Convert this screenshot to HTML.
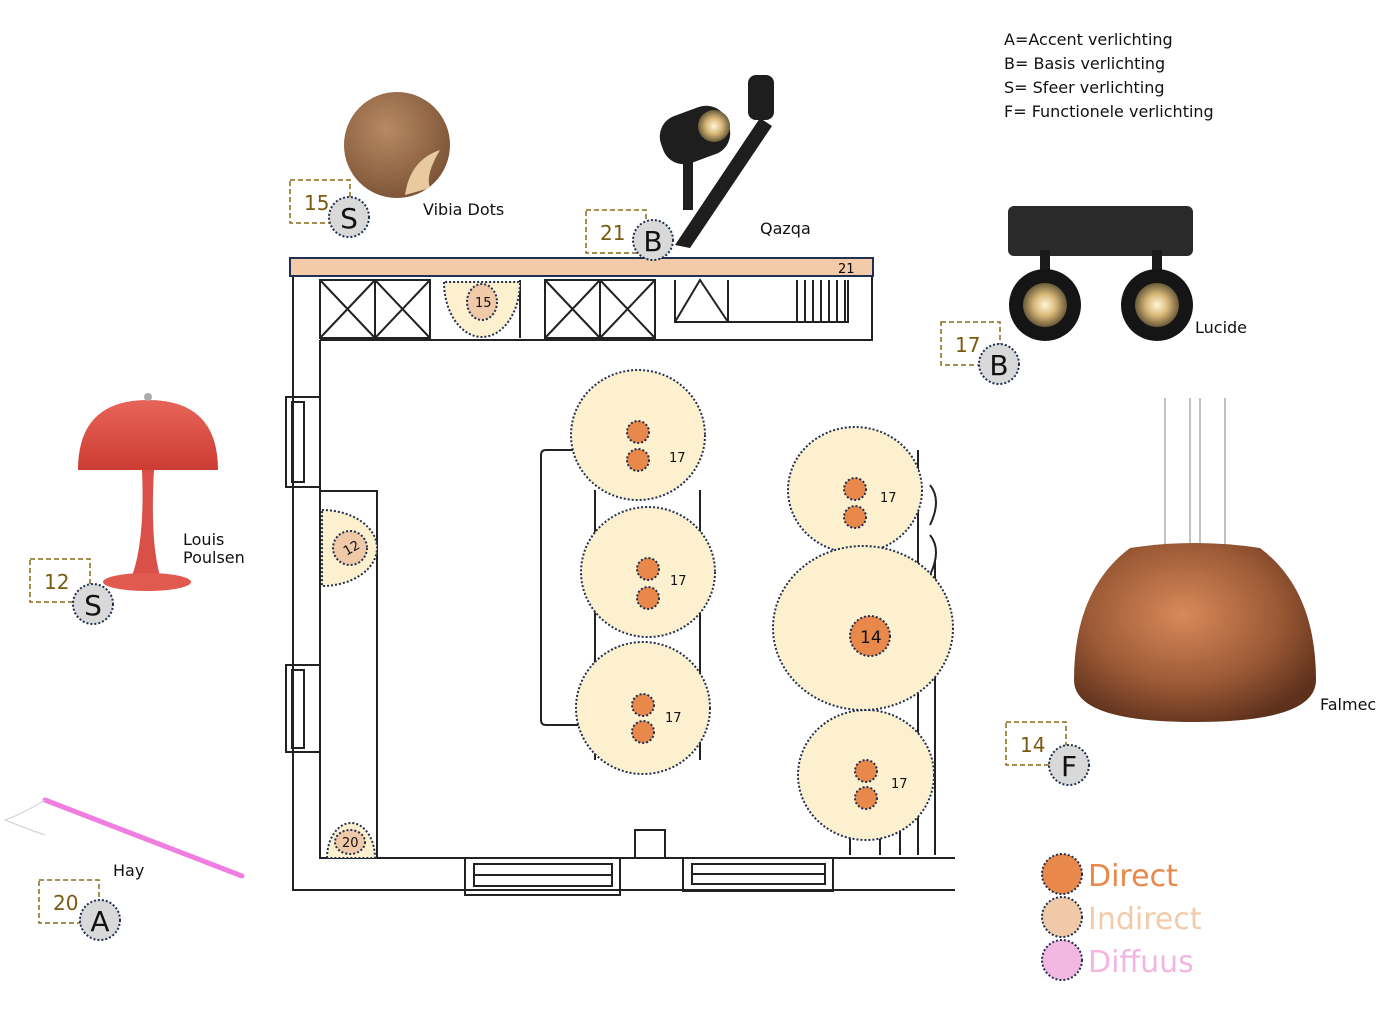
<!DOCTYPE html>
<html><head><meta charset="utf-8"><style>
html,body{margin:0;padding:0;background:#fff}
svg{display:block}
text{font-family:"DejaVu Sans","Liberation Sans",sans-serif}
</style></head><body>
<svg width="1388" height="1016" viewBox="0 0 1388 1016" xmlns="http://www.w3.org/2000/svg">
<defs>
<radialGradient id="wood" cx="40%" cy="35%" r="70%"><stop offset="0" stop-color="#b88a63"/><stop offset="1" stop-color="#7a5236"/></radialGradient>
<radialGradient id="cop" cx="45%" cy="40%" r="65%"><stop offset="0" stop-color="#d98a5a"/><stop offset="0.6" stop-color="#9c5a36"/><stop offset="1" stop-color="#5e311c"/></radialGradient>
<radialGradient id="bulb" cx="50%" cy="50%" r="50%"><stop offset="0" stop-color="#fff6d8"/><stop offset="0.5" stop-color="#d8b878"/><stop offset="1" stop-color="#6a5a3a"/></radialGradient>
<linearGradient id="red" x1="0" y1="0" x2="0" y2="1"><stop offset="0" stop-color="#e8645a"/><stop offset="1" stop-color="#cc3c32"/></linearGradient>
</defs>

<g font-size="16" fill="#111">
<text x="1004" y="45">A=Accent verlichting</text>
<text x="1004" y="69">B= Basis verlichting</text>
<text x="1004" y="93">S= Sfeer verlichting</text>
<text x="1004" y="117">F= Functionele verlichting</text>
</g>

<g fill="none" stroke="#222" stroke-width="2">
<path d="M293 277 V890 H955"/>
<path d="M320 340 V858 H955"/>
<path d="M320 340 H872 V277"/>
<rect x="320" y="280" width="110" height="58"/>
<line x1="375" y1="280" x2="375" y2="338"/>
<path d="M320 280 L375 338 M375 280 L320 338 M375 280 L430 338 M430 280 L375 338"/>
<line x1="520" y1="280" x2="520" y2="338"/>
<rect x="545" y="280" width="110" height="58"/>
<line x1="600" y1="280" x2="600" y2="338"/>
<path d="M545 280 L600 338 M600 280 L545 338 M600 280 L655 338 M655 280 L600 338"/>
<path d="M675 280 V322 H848 V280"/>
<path d="M675 322 L700 280 L728 322 M728 280 V322"/>
<path d="M797 280 V322 M805 280 V322 M813 280 V322 M821 280 V322 M829 280 V322 M837 280 V322 M845 280 V322"/>
<rect x="286" y="397" width="34" height="90"/>
<rect x="292" y="402" width="12" height="80"/>
<rect x="286" y="665" width="34" height="87"/>
<rect x="292" y="670" width="12" height="78"/>
<path d="M320 491 H377 V858"/>
<path d="M600 450 H546 Q541 450 541 455 V720 Q541 725 546 725 H580"/>
<path d="M595 490 V760 M700 490 V760"/>
<path d="M918 450 V855 M935 560 V855 M850 830 V855 M880 830 V855 M900 830 V855"/>
<path d="M930 485 Q942 500 930 525 M930 535 Q942 550 930 575"/>
<rect x="635" y="830" width="30" height="28"/>
<rect x="465" y="858" width="155" height="37"/>
<path d="M474 864 H612 V886 H474 Z M474 875 H612"/>
<rect x="683" y="858" width="150" height="33"/>
<path d="M692 864 H825 V884 H692 Z M692 874 H825"/>
</g>

<rect x="290" y="258" width="583" height="18" fill="#f4cba8" stroke="#1f3050" stroke-width="2"/>
<text x="838" y="273" font-size="13">21</text>

<g fill="#fdf0cf" stroke="#1f3050" stroke-width="2" stroke-dasharray="2,2">
<path d="M444 282 A38 55 0 0 0 520 282 Z"/>
<path d="M322 510 A55 38 0 0 1 322 586 Z"/>
<path d="M327 858 A24 35 0 0 1 375 858 Z"/>
<ellipse cx="638" cy="435" rx="67" ry="65"/>
<ellipse cx="648" cy="572" rx="67" ry="65"/>
<ellipse cx="643" cy="708" rx="67" ry="66"/>
<ellipse cx="855" cy="490" rx="67" ry="63"/>
<ellipse cx="866" cy="775" rx="68" ry="65"/>
<ellipse cx="863" cy="628" rx="90" ry="82"/>
</g>
<g fill="#f0c9a8" stroke="#1f3050" stroke-width="2" stroke-dasharray="2,2">
<ellipse cx="482" cy="302" rx="15" ry="18"/>
<circle cx="350" cy="548" r="17"/>
<ellipse cx="350" cy="842" rx="15" ry="12"/>
</g>
<g fill="#e8884a" stroke="#1f3050" stroke-width="2" stroke-dasharray="2,2">
<circle cx="638" cy="432" r="11"/><circle cx="638" cy="460" r="11"/>
<circle cx="648" cy="569" r="11"/><circle cx="648" cy="598" r="11"/>
<circle cx="643" cy="705" r="11"/><circle cx="643" cy="732" r="11"/>
<circle cx="855" cy="489" r="11"/><circle cx="855" cy="517" r="11"/>
<circle cx="866" cy="771" r="11"/><circle cx="866" cy="798" r="11"/>
<circle cx="870" cy="636" r="20"/>
</g>
<g font-size="13" fill="#111" font-family="Liberation Sans, sans-serif">
<text x="475" y="307">15</text>
<text x="343" y="553" transform="rotate(-30 350 548)">12</text>
<text x="342" y="847">20</text>
<text x="669" y="462">17</text>
<text x="670" y="585">17</text>
<text x="665" y="722">17</text>
<text x="880" y="502">17</text>
<text x="891" y="788">17</text>
<text x="860" y="643" font-size="17">14</text>
</g>

<g fill="none" stroke="#8a6a1a" stroke-width="1.5" stroke-dasharray="5,3">
<rect x="290" y="180" width="60" height="43"/>
<rect x="586" y="210" width="60" height="43"/>
<rect x="941" y="322" width="59" height="43"/>
<rect x="30" y="559" width="60" height="43"/>
<rect x="1006" y="722" width="60" height="43"/>
<rect x="39" y="880" width="60" height="43"/>
</g>
<g font-size="20" fill="#7a5a10">
<text x="304" y="210">15</text>
<text x="600" y="240">21</text>
<text x="955" y="352">17</text>
<text x="44" y="589">12</text>
<text x="1020" y="752">14</text>
<text x="53" y="910">20</text>
</g>
<g fill="#d9d9d9" stroke="#1f3050" stroke-width="2" stroke-dasharray="2,2">
<circle cx="349" cy="217" r="20"/>
<circle cx="653" cy="240" r="20"/>
<circle cx="999" cy="364" r="20"/>
<circle cx="93" cy="604" r="20"/>
<circle cx="1069" cy="765" r="20"/>
<circle cx="100" cy="920" r="20"/>
</g>
<g font-size="28" fill="#111" text-anchor="middle">
<text x="349" y="228">S</text>
<text x="653" y="251">B</text>
<text x="999" y="375">B</text>
<text x="93" y="615">S</text>
<text x="1069" y="776">F</text>
<text x="100" y="931">A</text>
</g>

<g font-size="16" fill="#111">
<text x="423" y="215">Vibia Dots</text>
<text x="760" y="234">Qazqa</text>
<text x="1195" y="333">Lucide</text>
<text x="183" y="545">Louis</text>
<text x="183" y="563">Poulsen</text>
<text x="113" y="876">Hay</text>
<text x="1320" y="710">Falmec</text>
</g>

<circle cx="397" cy="145" r="53" fill="url(#wood)"/>
<path d="M405 195 Q410 160 440 150 Q425 175 430 188 Z" fill="#e8c9a0"/>

<g fill="#1e1e1e">
<path d="M675 245 L760 118 L772 126 L690 248 Z"/>
<rect x="748" y="75" width="26" height="45" rx="8"/>
<rect x="660" y="110" width="70" height="50" rx="22" transform="rotate(-20 695 135)"/>
<rect x="683" y="160" width="10" height="50"/>
</g>
<circle cx="714" cy="126" r="16" fill="url(#bulb)"/>

<rect x="1008" y="206" width="185" height="50" rx="6" fill="#2a2a2a"/>
<rect x="1040" y="250" width="10" height="30" fill="#1a1a1a"/>
<rect x="1152" y="250" width="10" height="30" fill="#1a1a1a"/>
<circle cx="1045" cy="305" r="36" fill="#151515"/>
<circle cx="1045" cy="305" r="22" fill="url(#bulb)"/>
<circle cx="1157" cy="305" r="36" fill="#151515"/>
<circle cx="1157" cy="305" r="22" fill="url(#bulb)"/>

<path d="M78 470 Q78 400 148 400 Q218 400 218 470 Z" fill="url(#red)"/>
<circle cx="148" cy="397" r="4" fill="#aaa"/>
<path d="M142 470 Q145 540 132 576 L160 576 Q150 540 154 470 Z" fill="#d85048"/>
<ellipse cx="147" cy="582" rx="44" ry="9" fill="#e05a50"/>

<line x1="45" y1="800" x2="242" y2="876" stroke="#f07ee0" stroke-width="5" stroke-linecap="round"/>
<path d="M45 800 Q20 815 5 820 Q30 830 45 835" fill="none" stroke="#ccc" stroke-width="1"/>

<g stroke="#999" stroke-width="1.2"><line x1="1165" y1="398" x2="1165" y2="548"/><line x1="1190" y1="398" x2="1190" y2="545"/><line x1="1200" y1="398" x2="1200" y2="545"/><line x1="1225" y1="398" x2="1225" y2="548"/></g>
<path d="M1130 548 Q1195 538 1260 548 Q1316 590 1316 680 Q1316 722 1195 722 Q1074 722 1074 680 Q1074 590 1130 548 Z" fill="url(#cop)"/>

<g stroke="#1f3050" stroke-width="2" stroke-dasharray="2,2">
<circle cx="1062" cy="874" r="20" fill="#e8884a"/>
<circle cx="1062" cy="917" r="20" fill="#f0c9a8"/>
<circle cx="1062" cy="960" r="20" fill="#f2b8e2"/>
</g>
<g font-size="30">
<text x="1088" y="886" fill="#e8884a">Direct</text>
<text x="1088" y="929" fill="#f4cba8">Indirect</text>
<text x="1088" y="972" fill="#f3b6e3">Diffuus</text>
</g>
</svg>
</body></html>
